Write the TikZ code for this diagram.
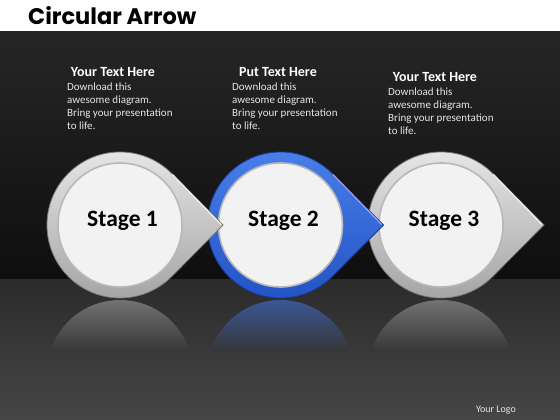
\documentclass[tikz,border=0pt]{standalone}
\usepackage{fontspec}
\setmainfont{Carlito}
\newfontfamily\titlefont{Poppins}
\definecolor{bgtop}{HTML}{262626}
\definecolor{bgbot}{HTML}{0E0E0E}
\definecolor{floortop}{HTML}{2B2B2B}
\definecolor{floorbot}{HTML}{464646}
\definecolor{grayT}{HTML}{E8E8E8}
\definecolor{grayB}{HTML}{A2A2A2}
\definecolor{grayO}{HTML}{7A7A7A}
\definecolor{blueT}{HTML}{4A80EA}
\definecolor{blueB}{HTML}{2152C4}
\definecolor{blueO}{HTML}{163C96}
\definecolor{innerfill}{HTML}{F2F2F2}
\definecolor{txtgray}{HTML}{E6E6E6}
\definecolor{reflgray}{HTML}{727272}
\definecolor{reflblue}{HTML}{3B5794}
\definecolor{reflend}{HTML}{363636}
\newcommand{\stagedrop}[5]{%
  % #1 cx, #2 top, #3 bottom, #4 outline, #5 highlight
  \path[draw=#4, line width=0.8pt, top color=#2, bottom color=#3]
    (#1+103,195) -- (#1+51.62,246.62) arc[start angle=45, end angle=315, radius=73] -- cycle;
  \draw[#5, line width=1.2pt, opacity=0.8, line cap=round] (#1+52.5,245.5) -- (#1+101,195.5);
  \fill[innerfill] (#1,195) circle[radius=62];
  \draw[black!28, line width=1.6pt] (#1,195) circle[radius=62];
}
\newcommand{\stagerefl}[3]{%
  \begin{scope}
    \clip (#1,47) circle[radius=73];
    \shade[top color=#2, bottom color=#3] (#1-75,68) rectangle (#1+75,120);
  \end{scope}
}
\tikzset{
  head/.style={font=\fontsize{14}{16}\selectfont\bfseries, text=white, anchor=base, inner sep=0pt},
  body/.style={font=\fontsize{11}{13}\selectfont, text=txtgray, anchor=north west, align=left, inner sep=0pt},
  stagetxt/.style={font=\fontsize{23.5}{26}\selectfont\bfseries, text=black, anchor=base, inner sep=0pt}
}
\begin{document}
\begin{tikzpicture}[x=1pt,y=1pt]
\useasboundingbox (0,0) rectangle (560,420);
\fill[white] (0,388) rectangle (560,420);
\shade[top color=bgtop, bottom color=bgbot] (0,140) rectangle (560,388);
\shade[top color=floortop, bottom color=floorbot] (0,0) rectangle (560,140);
\node[anchor=base west, inner sep=0pt, font=\titlefont\fontsize{22.5}{26}\selectfont\bfseries] (title) at (28,395) {Circular Arrow};

% reflections
\stagerefl{120}{reflgray}{reflend}
\stagerefl{280.5}{reflblue}{reflend}
\stagerefl{441}{reflgray}{reflend}

% stages
\stagedrop{441}{grayT}{grayB}{grayO}{white}
\stagedrop{280.5}{blueT}{blueB}{blueO}{blue!30!white}
\stagedrop{120}{grayT}{grayB}{grayO}{white}

\node[stagetxt] (s1) at (122.5,193) {Stage 1};
\node[stagetxt] (s2) at (283.5,193) {Stage 2};
\node[stagetxt] (s3) at (444,193) {Stage 3};

% text blocks
\node[head] (h1) at (113,343.5) {Your Text Here};
\node[body] (b1) at (67,337) {Download this\\awesome diagram.\\Bring your presentation\\to life.};
\node[head] (h2) at (278,343.5) {Put Text Here};
\node[body] (b2) at (232,337) {Download this\\awesome diagram.\\Bring your presentation\\to life.};
\node[head] (h3) at (435,338.5) {Your Text Here};
\node[body] (b3) at (388,332) {Download this\\awesome diagram.\\Bring your presentation\\to life.};

\node[anchor=base east, inner sep=0pt, font=\fontsize{10}{12}\selectfont, text=txtgray] (logo) at (516,7) {Your Logo};
\end{tikzpicture}
\end{document}
